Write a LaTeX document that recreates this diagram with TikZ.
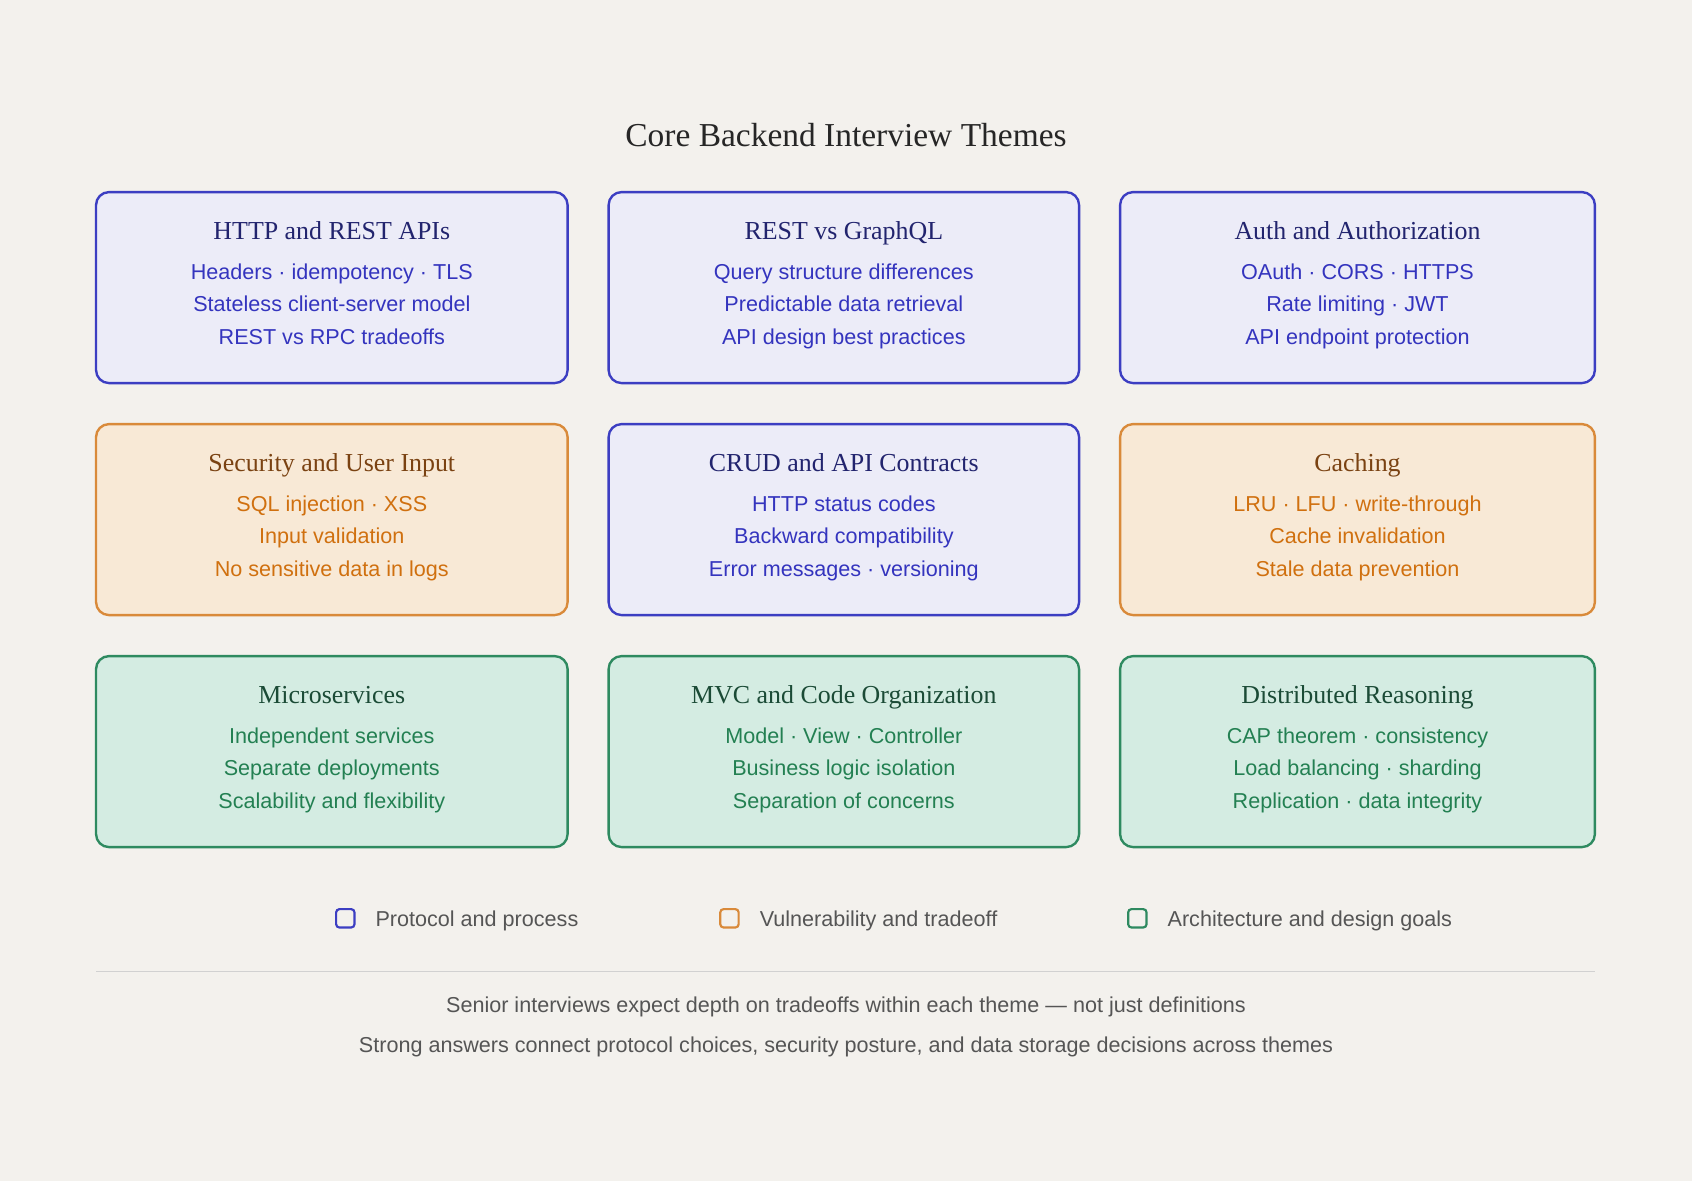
\documentclass[tikz,border=0pt]{standalone}
\usepackage{fontspec}
\setmainfont{Liberation Sans}
\newfontfamily\ttl{Liberation Serif}
\begin{document}
\begin{tikzpicture}[x=0.5pt,y=-0.5pt,
  bx/.style={draw=#1B,fill=#1F,line width=1.1pt,rounded corners=6pt},
  hd/.style={font=\ttl\fontsize{12}{14}\selectfont,text=#1H,anchor=base},
  ln/.style={font=\fontsize{10}{12}\selectfont,text=#1T,anchor=base},
  lg/.style={draw=#1B,line width=1pt,rounded corners=1.5pt,minimum size=8.5pt,inner sep=0pt},
  lt/.style={font=\fontsize{10}{12}\selectfont,text=footc,anchor=base west},
  ft/.style={font=\fontsize{10}{12}\selectfont,text=footc,anchor=base}]
\definecolor{bg}{HTML}{F3F1ED}
\definecolor{bB}{HTML}{3C3EC2}\definecolor{bF}{HTML}{ECECF8}\definecolor{bT}{HTML}{3434BE}\definecolor{bH}{HTML}{22246E}
\definecolor{oB}{HTML}{D98A3A}\definecolor{oF}{HTML}{F8E9D6}\definecolor{oT}{HTML}{D0700F}\definecolor{oH}{HTML}{7A4212}
\definecolor{gB}{HTML}{2E8A60}\definecolor{gF}{HTML}{D4ECE2}\definecolor{gT}{HTML}{238052}\definecolor{gH}{HTML}{1B4B36}
\definecolor{footc}{HTML}{555555}
\fill[bg] (0,0) rectangle (1568,1094);
\useasboundingbox (0,0) rectangle (1568,1094);
\node[font=\ttl\fontsize{15.5}{18}\selectfont,text=black!85,anchor=base] (title) at (784,136) {Core Backend Interview Themes};
\foreach \x/\w/\y/\c/\h/\a/\b/\d/\n in {
 89/437/178/b/HTTP and REST APIs/Headers · idempotency · TLS/Stateless client-server model/REST vs RPC tradeoffs/b1,
 564/436/178/b/REST vs GraphQL/Query structure differences/Predictable data retrieval/API design best practices/b2,
 1038/440/178/b/Auth and Authorization/OAuth · CORS · HTTPS/Rate limiting · JWT/API endpoint protection/b3,
 89/437/393/o/Security and User Input/SQL injection · XSS/Input validation/No sensitive data in logs/b4,
 564/436/393/b/CRUD and API Contracts/HTTP status codes/Backward compatibility/Error messages · versioning/b5,
 1038/440/393/o/Caching/LRU · LFU · write-through/Cache invalidation/Stale data prevention/b6,
 89/437/608/g/Microservices/Independent services/Separate deployments/Scalability and flexibility/b7,
 564/436/608/g/MVC and Code Organization/Model · View · Controller/Business logic isolation/Separation of concerns/b8,
 1038/440/608/g/Distributed Reasoning/CAP theorem · consistency/Load balancing · sharding/Replication · data integrity/b9}{
 \draw[bx=\c] (\x,\y) rectangle ++(\w,177);
 \node[hd=\c] (\n h) at (\x+\w/2,\y+44) {\h};
 \node[ln=\c] (\n a) at (\x+\w/2,\y+81) {\a};
 \node[ln=\c] (\n b) at (\x+\w/2,\y+111) {\b};
 \node[ln=\c] (\n c) at (\x+\w/2,\y+141) {\d};
}
\node[lg=b] (l1) at (320,851) {};
\node[lt] (l1t) at (341,859) {Protocol and process};
\node[lg=o] (l2) at (676,851) {};
\node[lt] (l2t) at (697,859) {Vulnerability and tradeoff};
\node[lg=g] (l3) at (1054,851) {};
\node[lt] (l3t) at (1075,859) {Architecture and design goals};
\coordinate (r1) at (89,900); \coordinate (r2) at (1478,900);
\draw[black!18,line width=0.6pt] (r1) -- (r2);
\node[ft] (f1) at (784,938) {Senior interviews expect depth on tradeoffs within each theme — not just definitions};
\node[ft] (f2) at (784,975) {Strong answers connect protocol choices, security posture, and data storage decisions across themes};
\end{tikzpicture}
\end{document}
